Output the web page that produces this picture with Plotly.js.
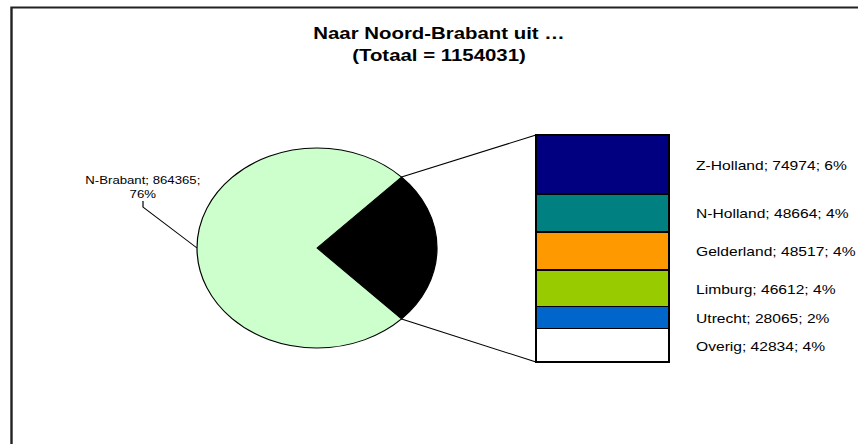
<!DOCTYPE html>
<html>
<head>
<meta charset="utf-8">
<script src="https://cdn.plot.ly/plotly-3.0.1.min.js"></script>
<style>
  body { margin: 0; background: #fff; width: 858px; height: 444px; overflow: hidden; }
  /* the original picture is a 715 wide chart stretched to 858 */
  #chart { width: 715px; height: 444px; transform: scaleX(1.2); transform-origin: 0 0; }
</style>
</head>
<body>
<div id="chart"></div>
<script>
// pie: N-Brabant against the rest
const brabantLabel = 'N-Brabant';
const brabant = 864365;
const brabantPct = '76%';
const brabantColor = '#CCFFCC';
const restColor = '#000000';

// bar: how the rest splits up (bottom to top)
const barLabels = ['Overig', 'Utrecht', 'Limburg', 'Gelderland', 'N-Holland', 'Z-Holland'];
const barValues = [42834, 28065, 46612, 48517, 48664, 74974];
const barPct = ['4%', '2%', '4%', '4%', '4%', '6%'];
const barColors = ['#FFFFFF', '#0066CC', '#99CC00', '#FF9900', '#008080', '#000080'];

const total = 1154031;

const S = 1.2;            // horizontal stretch
const W = 715, H = 444;   // chart size before stretching
// positions below are given in final (stretched) pixels
const px = x => x / S / W;
const py = y => 1 - y / H;
const font = 'Liberation Sans, Arial, sans-serif';

let rest = 0;
barValues.forEach(v => rest += v);

// pie centre and radius (final pixels, radius is the vertical one)
const cx = 317, cy = 248, r = 100;

let data = [];
data.push({
  type: 'pie',
  values: [rest, brabant],
  labels: ['rest', brabantLabel],
  sort: false,
  direction: 'clockwise',
  rotation: 90 - 180 * rest / (rest + brabant),
  marker: { colors: [restColor, brabantColor], line: { color: '#000', width: 1 } },
  textinfo: 'none',
  hoverinfo: 'none',
  showlegend: false,
  domain: { x: [px(cx - r * S), px(cx + r * S)], y: [py(cy + r), py(cy - r)] }
});

for (let i = 0; i < barValues.length; i++) {
  data.push({
    type: 'bar',
    x: [0],
    y: [barValues[i]],
    width: 1,
    name: barLabels[i],
    marker: { color: barColors[i], line: { color: '#000', width: 1.5 } },
    hoverinfo: 'none',
    showlegend: false
  });
}

// labels next to the bar
let annotations = [];
let cum = 0;
for (let i = 0; i < barValues.length; i++) {
  annotations.push({
    xref: 'paper', yref: 'y',
    x: px(694), y: cum + barValues[i] / 2,
    xanchor: 'left', yanchor: 'middle', yshift: -1,
    text: barLabels[i] + '; ' + barValues[i] + '; ' + barPct[i],
    showarrow: false,
    font: { family: font, size: 13, color: '#000' }
  });
  cum += barValues[i];
}
annotations.push({
  xref: 'paper', yref: 'paper',
  x: px(143), y: py(187),
  xanchor: 'center', yanchor: 'middle',
  text: brabantLabel + '; ' + brabant + ';<br>' + brabantPct,
  align: 'center',
  showarrow: false,
  font: { family: font, size: 11, color: '#000' }
});

// connector lines from the black slice to the bar
const half = Math.PI * rest / (rest + brabant);
const ex = cx + r * S * Math.cos(half);
const eyTop = cy - r * Math.sin(half);
const eyBot = cy + r * Math.sin(half);
const barLeft = 536, barRight = 669, barTop = 135, barBot = 362;
const pad = 4; // unstretched px around the bar so its outline is not clipped
const barW = (barRight - barLeft) / S;
const barH = barBot - barTop;

let shapes = [
  { type: 'rect', xref: 'paper', yref: 'paper', x0: px(11.5), y0: -0.1, x1: 1.1, y1: py(7.5),
    line: { color: '#222', width: 2 } },
  { type: 'line', xref: 'paper', yref: 'paper', x0: px(ex), y0: py(eyTop), x1: px(barLeft), y1: py(barTop),
    line: { color: '#000', width: 1 } },
  { type: 'line', xref: 'paper', yref: 'paper', x0: px(ex), y0: py(eyBot), x1: px(barLeft), y1: py(barBot),
    line: { color: '#000', width: 1 } },
  { type: 'path', xref: 'paper', yref: 'paper',
    path: 'M ' + px(143) + ' ' + py(201) + ' L ' + px(143) + ' ' + py(207) + ' L ' + px(cx - r * S) + ' ' + py(cy),
    line: { color: '#000', width: 1 } }
];

const layout = {
  width: W, height: H,
  margin: { l: 0, r: 0, t: 0, b: 0 },
  paper_bgcolor: '#fff', plot_bgcolor: 'rgba(0,0,0,0)',
  font: { family: font, color: '#000' },
  title: {
    text: '<b>Naar Noord-Brabant uit …<br>(Totaal = ' + total + ')</b>',
    x: px(439), xref: 'paper', xanchor: 'center',
    y: py(39), yref: 'container', yanchor: 'middle',
    font: { family: font, size: 17, color: '#000' }
  },
  barmode: 'stack',
  bargap: 0,
  xaxis: {
    domain: [(barLeft / S - pad) / W, (barRight / S + pad) / W],
    range: [-0.5 - pad / barW, 0.5 + pad / barW],
    visible: false, fixedrange: true
  },
  yaxis: {
    domain: [1 - (barBot + pad) / H, 1 - (barTop - pad) / H],
    range: [-rest * pad / barH, rest * (1 + pad / barH)],
    visible: false, fixedrange: true
  },
  annotations: annotations,
  shapes: shapes
};

Plotly.newPlot('chart', data, layout, { displayModeBar: false, staticPlot: true });
</script>
</body>
</html>
